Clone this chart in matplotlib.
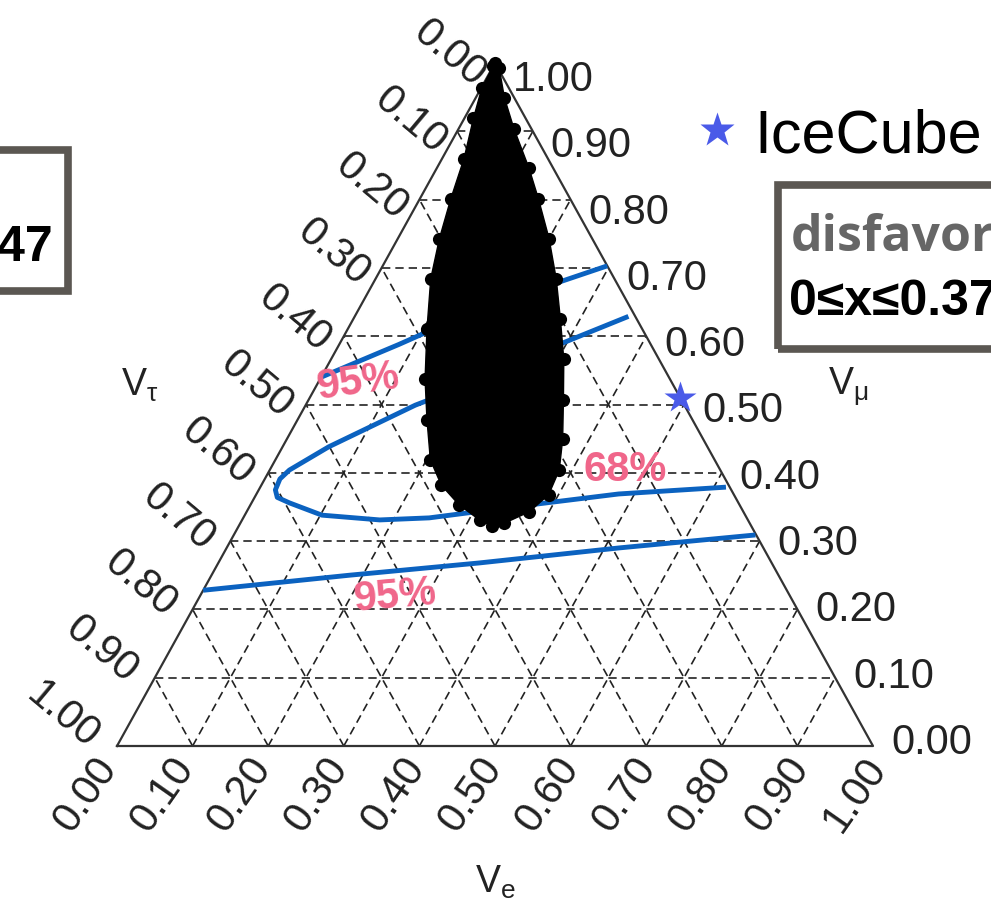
import numpy as np
import matplotlib
matplotlib.use('Agg')
import matplotlib.pyplot as plt
from matplotlib.patches import Rectangle, Polygon
from matplotlib.transforms import offset_copy
from matplotlib.lines import Line2D

plt.rcParams['font.family'] = ['Liberation Sans', 'DejaVu Sans']

W, H = 991, 904

ticks = np.round(np.arange(0, 1.001, 0.1), 2)
tick_labels = ['%.2f' % t for t in ticks]

# allowed flavor ratios from the scan, outline in (nu_e, nu_mu); nu_tau = 1 - nu_e - nu_mu
blob_ve = [0.000, 0.009, 0.038, 0.073, 0.122, 0.157, 0.200, 0.239, 0.274, 0.308, 0.337,
           0.365, 0.383, 0.387, 0.374, 0.349, 0.335, 0.314, 0.276, 0.238, 0.205, 0.171,
           0.139, 0.105, 0.073, 0.055, 0.041, 0.029, 0.012, 0.001, 0.000]
blob_vmu = [1.000, 0.993, 0.949, 0.904, 0.846, 0.801, 0.743, 0.684, 0.625, 0.566, 0.507,
            0.449, 0.404, 0.368, 0.343, 0.326, 0.322, 0.331, 0.353, 0.382, 0.419, 0.478,
            0.537, 0.610, 0.684, 0.743, 0.801, 0.860, 0.919, 0.963, 0.995]

# IceCube contours
c95_upper_ve = [0.000, 0.079, 0.159, 0.223, 0.297]
c95_upper_vmu = [0.540, 0.588, 0.640, 0.669, 0.703]

c68_ve = [0.362, 0.291, 0.215, 0.145, 0.061, 0.026, 0.020, 0.022, 0.030, 0.050, 0.102,
          0.182, 0.246, 0.356, 0.479, 0.616]
c68_vmu = [0.629, 0.588, 0.537, 0.499, 0.438, 0.404, 0.391, 0.375, 0.364, 0.356, 0.338,
           0.331, 0.334, 0.351, 0.369, 0.379]

c95_lower_ve = [0.000, 0.182, 0.345, 0.519, 0.690]
c95_lower_vmu = [0.228, 0.250, 0.268, 0.290, 0.309]

icecube_ve, icecube_vmu = 0.49, 0.51


def proj(ve, vmu):
    ve = np.asarray(ve, float)
    vmu = np.asarray(vmu, float)
    return ve + vmu / 2.0, vmu


def fpos(px, py):
    return px / W, 1 - py / H


fig = plt.figure(figsize=(W / 100, H / 100), dpi=100)
ax = fig.add_axes([0, 0, 1, 1])
ax.set_xlim(-117 / 756, (W - 117) / 756)
ax.set_ylim((747 - H) / 683, 747 / 683)
ax.axis('off')

# dashed grid, one family per flavor
gkw = dict(color='#222222', lw=1.2, ls=(0, (5, 3)), zorder=1)
for t in ticks[1:-1]:
    x, y = proj([0, 1 - t], [t, t])
    ax.plot(x, y, **gkw)
    x, y = proj([t, t], [0, 1 - t])
    ax.plot(x, y, **gkw)
    x, y = proj([1 - t, 0], [0, 1 - t])
    ax.plot(x, y, **gkw)

x, y = proj([0, 1, 0, 0], [0, 0, 1, 0])
ax.plot(x, y, color='#333333', lw=1.6, zorder=2)

# contours
blue = '#0b62c0'
for ve, vmu in [(c95_upper_ve, c95_upper_vmu), (c68_ve, c68_vmu), (c95_lower_ve, c95_lower_vmu)]:
    x, y = proj(ve, vmu)
    ax.plot(x, y, color=blue, lw=3.5, solid_capstyle='butt', zorder=3)

# scanned points
bx, by = proj(blob_ve, blob_vmu)
ax.add_patch(Polygon(np.column_stack([bx, by]), closed=True, color='black', zorder=4))
ax.scatter(bx, by, s=90, color='black', zorder=4, lw=0)

pink = '#f0668a'
for ve, vmu, txt, rot in [(0.052, 0.534, '95%', 8), (0.469, 0.406, '68%', 0), (0.258, 0.22, '95%', 5)]:
    x, y = proj(ve, vmu)
    ax.text(x, y, txt, color=pink, fontsize=30, fontweight='bold', ha='center', va='center',
            rotation=rot, zorder=5)

sx, sy = proj(icecube_ve, icecube_vmu)
ax.plot(sx, sy, marker='*', ms=24, color='#4a5ae8', mec='none', zorder=6)

# tick labels
tfs = 30
for t, lab in zip(ticks, tick_labels):
    x, y = proj(0, 1 - t)
    tr = offset_copy(ax.transData, fig=fig, x=-15 - 8 * t, y=-16 + 21 * t, units='dots')
    ax.text(x, y, lab, transform=tr, fontsize=tfs, ha='right', va='center', rotation=-40,
            rotation_mode='anchor', color='#222222')
    x, y = proj(1 - t, t)
    tr = offset_copy(ax.transData, fig=fig, x=18, y=4 - 20 * t, units='dots')
    ax.text(x, y, lab, transform=tr, fontsize=tfs, ha='left', va='center', color='#222222')
    x, y = proj(t, 0)
    tr = offset_copy(ax.transData, fig=fig, x=-8 + 13 * t, y=-14, units='dots')
    ax.text(x, y, lab, transform=tr, fontsize=tfs, ha='right', va='center', rotation=55,
            rotation_mode='anchor', color='#222222')

afs = 27
fig.text(*fpos(140, 385), r'V$_\mathregular{τ}$', fontsize=afs, ha='center', va='center', color='#222222')
fig.text(*fpos(848, 387), r'V$_\mathregular{μ}$', fontsize=afs, ha='center', va='center', color='#222222')
fig.text(*fpos(495, 882), r'V$_\mathregular{e}$', fontsize=afs, ha='center', va='center', color='#222222')

# legend
h = Line2D([], [], ls='none', marker='*', ms=26, color='#4a5ae8', mec='none')
fig.legend([h], ['IceCube'], loc='center left', bbox_to_anchor=fpos(686, 137),
           frameon=False, fontsize=44, handlelength=1.0, handletextpad=0.12, borderpad=0,
           borderaxespad=0)

# boxes
edge = '#5b5752'
x0, y0 = fpos(-40, 292)
x1, y1 = fpos(68, 151)
fig.add_artist(Rectangle((x0, y0), x1 - x0, y1 - y0, transform=fig.transFigure,
                         fill=False, ec=edge, lw=5.5))
fig.text(*fpos(53, 248), '0\u2264x\u22640.47', fontsize=36, fontweight='bold', ha='right',
         va='center', color='black')

x0, y0 = fpos(778, 350)
x1, y1 = fpos(1200, 186)
fig.add_artist(Rectangle((x0, y0), x1 - x0, y1 - y0, transform=fig.transFigure,
                         fill=False, ec=edge, lw=5.5))
fig.text(*fpos(791, 238), 'disfavored', fontsize=36, fontweight='bold', ha='left',
         va='center', color='#666666', family=['Open Sans', 'DejaVu Sans'])
fig.text(*fpos(789, 302), '0\u2264x\u22640.37', fontsize=36, fontweight='bold', ha='left',
         va='center', color='black')

fig.savefig('out.png', dpi=100)
